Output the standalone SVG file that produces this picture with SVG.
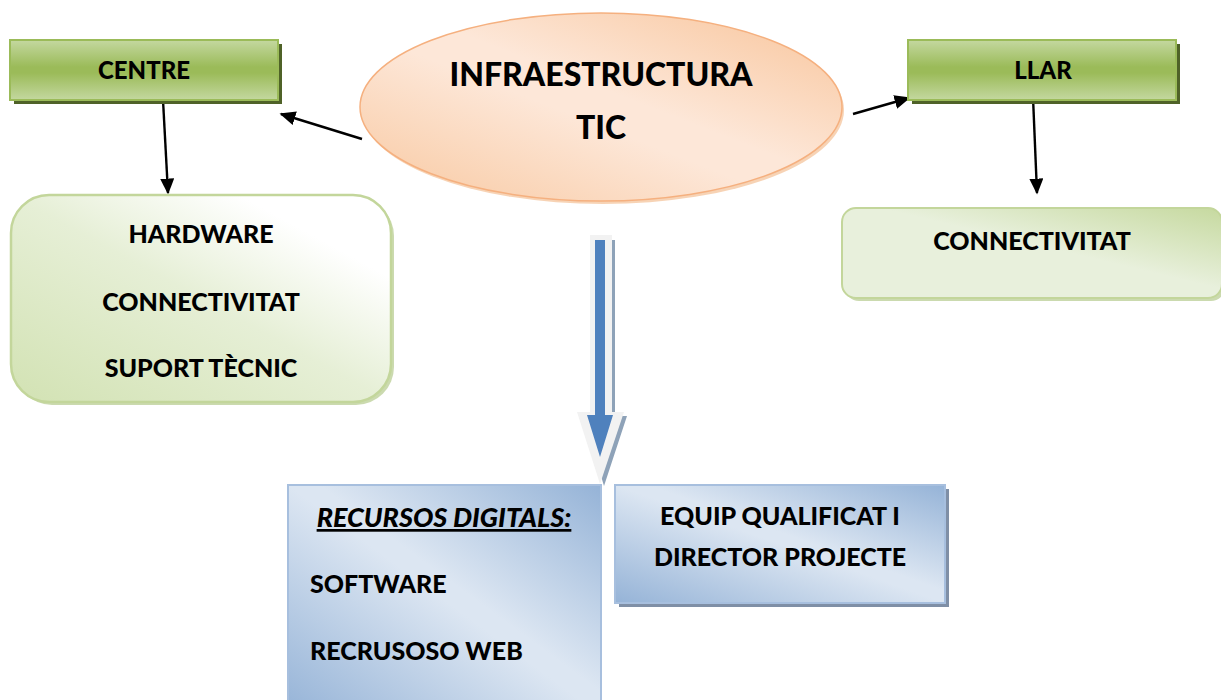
<svg xmlns="http://www.w3.org/2000/svg" width="1221" height="700" viewBox="0 0 1221 700">
<defs>
<style>
text{font-family:Lato,"Open Sans","Liberation Sans",sans-serif;font-weight:900;fill:#000}
.t20{font-size:24px}
.t22{font-size:25px}
.t29{font-size:32px}
.c{text-anchor:middle}
.line{stroke:#000;stroke-width:2.4;fill:none;marker-end:url(#ah)}
</style>
<marker id="ah" viewBox="0 0 10 10" refX="9" refY="5" markerWidth="16" markerHeight="14" orient="auto" markerUnits="userSpaceOnUse" preserveAspectRatio="none">
<path d="M0,0 L10,5 L0,10 z" fill="#000"/>
</marker>
<linearGradient id="gGreen" x1="0" y1="0" x2="0" y2="1">
<stop offset="0" stop-color="#c4d8a0"/>
<stop offset="0.45" stop-color="#9bbb59"/>
<stop offset="0.55" stop-color="#9bbb59"/>
<stop offset="1" stop-color="#c4d8a0"/>
</linearGradient>
<linearGradient id="gLight" x1="0" y1="1" x2="1" y2="0">
<stop offset="0" stop-color="#d2e2b3"/>
<stop offset="0.5" stop-color="#e6efd6"/>
<stop offset="0.8" stop-color="#ffffff"/>
<stop offset="1" stop-color="#ffffff"/>
</linearGradient>
<linearGradient id="gLight2" x1="0" y1="1" x2="1" y2="0">
<stop offset="0" stop-color="#e8f0dc"/>
<stop offset="0.55" stop-color="#e8f0dc"/>
<stop offset="1" stop-color="#c6d99f"/>
</linearGradient>
<linearGradient id="gPeach" x1="0" y1="1" x2="1" y2="0">
<stop offset="0" stop-color="#f8c8a0"/>
<stop offset="0.45" stop-color="#fde7d8"/>
<stop offset="0.55" stop-color="#fde7d8"/>
<stop offset="1" stop-color="#f8c49a"/>
</linearGradient>
<linearGradient id="gBlue" x1="0" y1="1" x2="1" y2="0">
<stop offset="0" stop-color="#95b3d7"/>
<stop offset="0.5" stop-color="#dce6f2"/>
<stop offset="0.55" stop-color="#dce6f2"/>
<stop offset="1" stop-color="#95b3d7"/>
</linearGradient>
</defs>

<g id="connectors">
<line class="line" x1="362" y1="139" x2="281" y2="114"/>
<line class="line" x1="853" y1="114" x2="909" y2="98"/>
<line class="line" x1="163" y1="100" x2="168" y2="193"/>
<line class="line" x1="1033" y1="97" x2="1037" y2="193"/>
<g id="big-arrow">
<path d="M595,240 L615,240 L615,416 L627,416 L604,486 L583,416 L595,416 Z" fill="#8ea2b8"/>
<path d="M590,235 L612,235 L612,412 L624,412 L600,484 L577,412 L590,412 Z" fill="#f2f2f2"/>
<path d="M595,240 L605,240 L605,415 L613,415 L600,457 L587,415 L595,415 Z" fill="#4f81bd"/>
</g>
</g>

<g id="node-infra">
<ellipse cx="603" cy="110" rx="241" ry="94" fill="#f1b583" opacity="0.6"/>
<ellipse cx="601" cy="107" rx="241" ry="94" fill="url(#gPeach)" stroke="#f5b07f" stroke-width="1.5"/>
<text class="t29 c" x="601" y="86">INFRAESTRUCTURA</text>
<text class="t29 c" x="601" y="139">TIC</text>
</g>

<g id="node-centre">
<rect x="14" y="44" width="268" height="60" fill="#4f6228"/>
<rect x="10" y="40" width="268" height="60" fill="url(#gGreen)" stroke="#9bbb59" stroke-width="2"/>
<text class="t20 c" x="144" y="79">CENTRE</text>
</g>

<g id="node-llar">
<rect x="912" y="44" width="268" height="60" fill="#4f6228"/>
<rect x="908" y="40" width="268" height="60" fill="url(#gGreen)" stroke="#9bbb59" stroke-width="2"/>
<text class="t20 c" x="1043" y="79">LLAR</text>
</g>

<g id="node-centre-items">
<rect x="14" y="198" width="380" height="207" rx="38" fill="#a9c27a" opacity="0.6"/>
<rect x="11" y="195" width="380" height="207" rx="38" fill="url(#gLight)" stroke="#c3d69b" stroke-width="2.5"/>
<text class="t22 c" x="201" y="243">HARDWARE</text>
<text class="t22 c" x="201" y="311">CONNECTIVITAT</text>
<text class="t22 c" x="201" y="377">SUPORT TÈCNIC</text>
</g>

<g id="node-llar-items">
<rect x="845" y="211" width="380" height="90" rx="14" fill="#a9c27a" opacity="0.6"/>
<rect x="842" y="208" width="380" height="90" rx="14" fill="url(#gLight2)" stroke="#c3d69b" stroke-width="2"/>
<text class="t22 c" x="1032" y="250">CONNECTIVITAT</text>
</g>

<g id="node-recursos">
<rect x="288" y="485" width="313" height="230" fill="url(#gBlue)" stroke="#a7bfde" stroke-width="2"/>
<text class="c" x="444" y="527" font-size="27" font-style="italic" text-decoration="underline">RECURSOS DIGITALS:</text>
<text class="t22" x="310" y="593">SOFTWARE</text>
<text class="t22" x="310" y="660">RECRUSOSO WEB</text>
</g>

<g id="node-equip">
<rect x="619" y="489" width="330" height="118" fill="#7f8fa6"/>
<rect x="615" y="485" width="330" height="118" fill="url(#gBlue)" stroke="#a7bfde" stroke-width="2"/>
<text class="t22 c" x="780" y="525">EQUIP QUALIFICAT I</text>
<text class="t22 c" x="780" y="566">DIRECTOR PROJECTE</text>
</g>
</svg>
